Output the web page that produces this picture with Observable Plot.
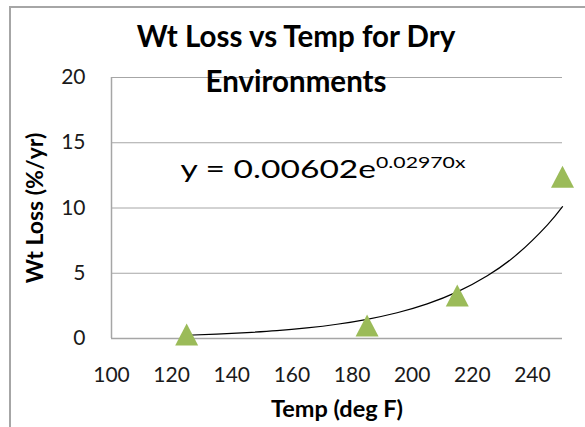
<!DOCTYPE html>
<html>
<head>
<meta charset="utf-8">
<script src="https://cdn.jsdelivr.net/npm/d3@7"></script>
<script src="https://cdn.jsdelivr.net/npm/@observablehq/plot@0.6"></script>
<style>
  html, body { margin: 0; padding: 0; background: #fff; }
  #wrap { position: relative; width: 585px; height: 427px; overflow: hidden; }
  #frame { position: absolute; left: 9px; top: 6px; right: -4px; bottom: -4px;
           border-left: 2px solid #a6a6a6; border-top: 2px solid #a6a6a6; pointer-events: none; }
</style>
</head>
<body>
<div id="wrap"><div id="frame"></div></div>
<script>
// ---- data ----
const temps = [125, 185, 215, 250];
const wtLoss = [0.3, 1.0, 3.3, 12.4];

// exponential trendline points
const trendTemp = [125, 135, 145, 155, 165, 175, 185, 195, 205, 215, 225, 235, 245, 250];
const trendLoss = [0.25, 0.33, 0.45, 0.60, 0.81, 1.09, 1.47, 1.97, 2.65, 3.57, 4.81, 6.47, 8.71, 10.1];

const xTicks = [100, 120, 140, 160, 180, 200, 220, 240];
const yTicks = [0, 5, 10, 15, 20];
const gridTicks = [5, 10, 15, 20];

const titleText = "Wt Loss vs Temp for Dry\nEnvironments";
const xLabel = "Temp (deg F)";
const yLabel = "Wt Loss (%/yr)";
const eqMain = "y = 0.00602e";
const eqSup = "0.02970x";

// ---- build tables ----
const points = temps.map((t, i) => ({temp: t, loss: wtLoss[i]}));
const trend = trendTemp.map((t, i) => ({temp: t, loss: trendLoss[i]}));

const GRID = "#a6a6a6";
const GREEN = "#9bbb59";

// Excel-style triangle marker, centered on its bounding box
const excelTriangle = {
  draw(context, size) {
    const r = Math.sqrt(size / Math.PI);
    const hw = r, hh = r * 22 / 23;
    context.moveTo(0, -hh);
    context.lineTo(hw, hh);
    context.lineTo(-hw, hh);
    context.closePath();
  }
};

const chart = Plot.plot({
  width: 585,
  height: 427,
  marginLeft: 111,
  marginRight: 23,
  marginTop: 77,
  marginBottom: 89,
  style: {fontFamily: "Lato, 'Open Sans', sans-serif", color: "#1a1a1a", background: "transparent"},
  x: {domain: [100, 250]},
  y: {domain: [0, 20]},
  marks: [
    Plot.gridY(gridTicks, {stroke: GRID, strokeOpacity: 1, strokeWidth: 1}),
    Plot.ruleY([0], {stroke: GRID, strokeWidth: 1.5}),
    Plot.ruleX([100], {stroke: GRID, strokeWidth: 1.5}),
    Plot.axisY(yTicks, {tickSize: 0, tickPadding: 26, fontSize: 21, label: null}),
    Plot.axisX(xTicks, {tickSize: 0, tickPadding: 29, fontSize: 21, label: null}),
    Plot.line(trend, {x: "temp", y: "loss", stroke: "#000", strokeWidth: 1.2, curve: "natural"}),
    Plot.dot(points, {x: "temp", y: "loss", symbol: excelTriangle, r: 11.5, fill: GREEN, stroke: "none"}),
    Plot.text([titleText], {text: d => d, frameAnchor: "top", dx: -41, dy: -62, lineAnchor: "top",
      textAnchor: "middle", lineHeight: 1.52, fontSize: 29.5, fontWeight: "bold", fill: "#000"}),
    Plot.text([yLabel], {text: d => d, frameAnchor: "left", dx: -76, rotate: -90,
      textAnchor: "middle", lineAnchor: "middle", fontSize: 23, fontWeight: "bold", fill: "#000"}),
    Plot.text([xLabel], {text: d => d, frameAnchor: "bottom", dy: 78, textAnchor: "middle",
      lineAnchor: "bottom", fontSize: 23.5, fontWeight: "bold", fill: "#000"}),
    Plot.text([eqMain], {text: d => d, frameAnchor: "top-left", dx: 69, dy: 100,
      textAnchor: "start", lineAnchor: "bottom", fontSize: 24.5, fill: "#000"})
  ]
});

// turn the exponent into a superscript and widen the equation like the reference
chart.querySelectorAll("text").forEach(t => {
  if (t.textContent === eqMain) {
    const ts = document.createElementNS("http://www.w3.org/2000/svg", "tspan");
    ts.setAttribute("dy", "-10");
    ts.setAttribute("font-size", "15.5");
    ts.textContent = eqSup;
    t.appendChild(ts);
    const tr = t.getAttribute("transform") || "";
    t.setAttribute("transform", (tr + " scale(1.37,1)").trim());
  }
});

document.getElementById("wrap").prepend(chart);
</script>
</body>
</html>
